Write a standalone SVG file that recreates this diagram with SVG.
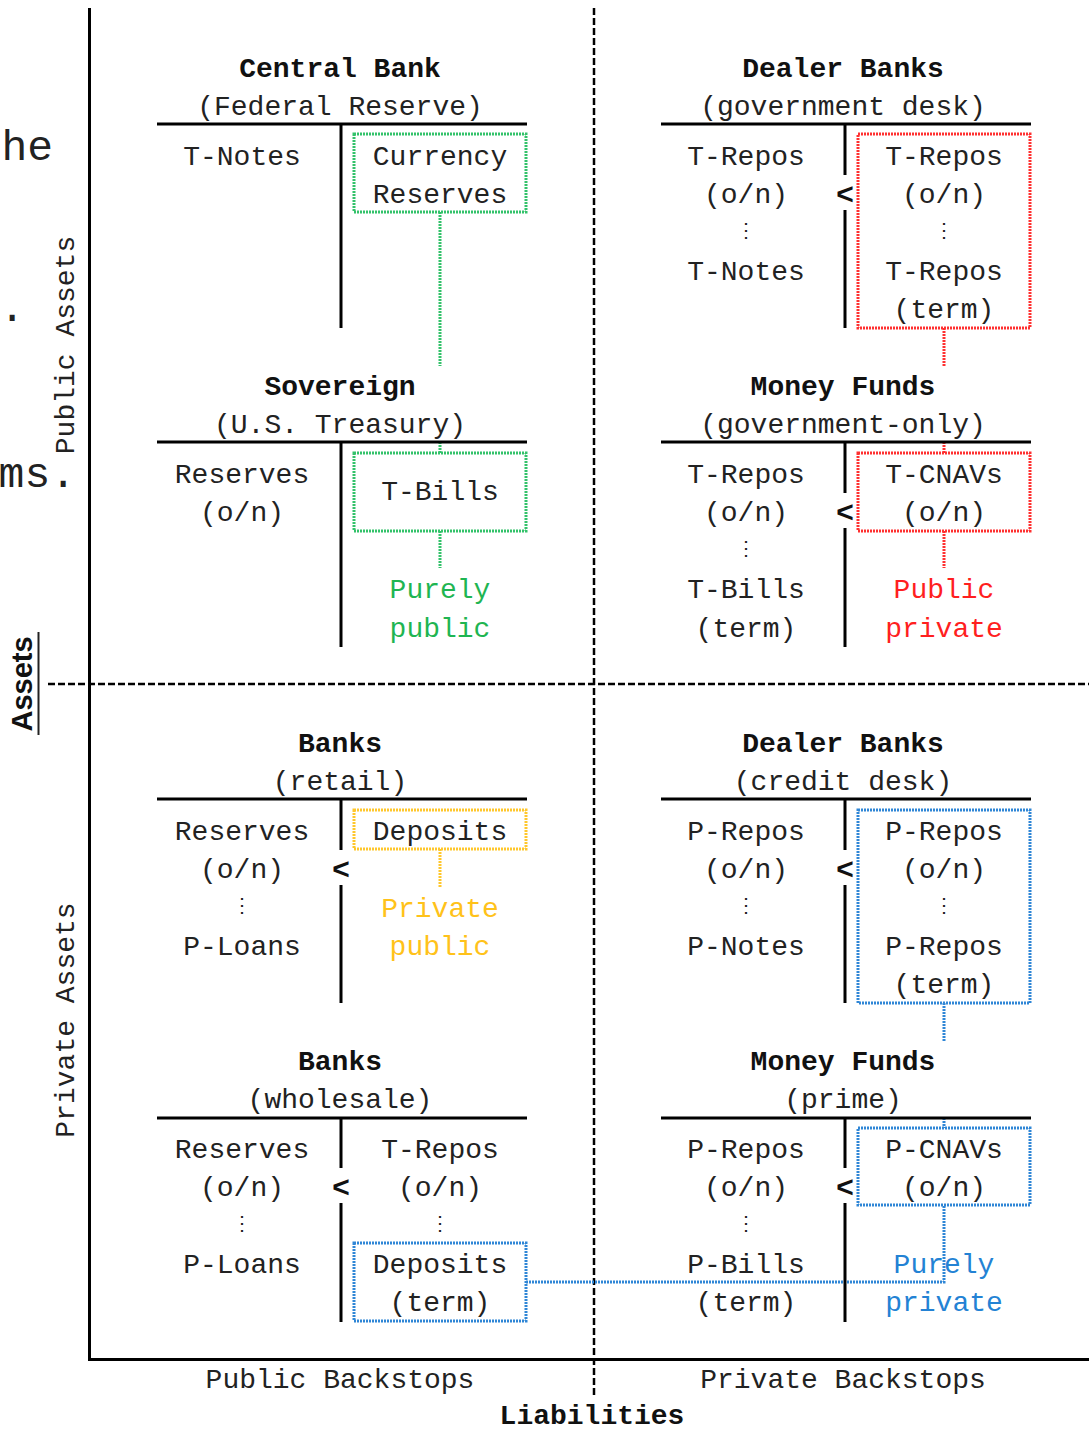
<svg xmlns="http://www.w3.org/2000/svg" width="1089" height="1432" viewBox="0 0 1089 1432">
  <style>
    .mono { font-family: "Liberation Mono", "Courier New", monospace; font-size: 28px; fill: #222; text-anchor: middle; }
    .title { font-family: "Liberation Mono", "Courier New", monospace; font-size: 28px; font-weight: bold; fill: #111; text-anchor: middle; }
    .lt { font-family: "Liberation Sans", Arial, sans-serif; font-size: 30px; font-weight: bold; fill: #111; text-anchor: middle; }
    .dots { font-family: "DejaVu Sans Mono", monospace; font-size: 20px; fill: #222; text-anchor: middle; }
    .axis { stroke: #000; stroke-width: 3; fill: none; }
    .rule { stroke: #000; stroke-width: 3; fill: none; }
    .dash { stroke: #000; stroke-width: 2.5; stroke-dasharray: 7 3; fill: none; }
    .box { fill: none; stroke-width: 3; stroke-dasharray: 2 1; }
    .green { stroke: #33c26a; }
    .red { stroke: #ff3030; }
    .yellow { stroke: #ffc72c; }
    .blue { stroke: #2f86d6; }
    .tg { fill: #1fb552; }
    .tr { fill: #ff1f1f; }
    .ty { fill: #ffc21a; }
    .tb { fill: #2382d4; }
  </style>

  <!-- clipped remnants at the left edge -->
  <g id="edge-text" font-family="Liberation Mono, Courier New, monospace" font-size="43" fill="#222" text-anchor="end">
    <text x="53" y="160">he</text>
    <text x="25" y="321">.</text>
    <text x="76" y="487">ms.</text>
  </g>

  <!-- axes and quadrant dividers -->
  <g id="axes">
    <line class="axis" x1="89.5" y1="8" x2="89.5" y2="1361"/>
    <line class="axis" x1="88" y1="1359.5" x2="1089" y2="1359.5"/>
    <line class="dash" x1="594" y1="8" x2="594" y2="1397"/>
    <line class="dash" x1="48" y1="684" x2="1089" y2="684"/>
  </g>

  <!-- axis labels -->
  <g id="axis-labels">
    <text transform="translate(32,684) rotate(-90)" font-family="Liberation Sans, Arial, sans-serif" font-size="29" font-weight="bold" fill="#111" text-anchor="middle">Assets</text>
    <line x1="38.5" y1="632" x2="38.5" y2="735" stroke="#222" stroke-width="2"/>
    <text class="mono" transform="translate(74,345) rotate(-90)">Public Assets</text>
    <text class="mono" transform="translate(74,1020) rotate(-90)">Private Assets</text>
    <text class="mono" x="340" y="1388">Public Backstops</text>
    <text class="mono" x="843" y="1388">Private Backstops</text>
    <text class="title" x="592" y="1424">Liabilities</text>
  </g>

  <!-- connectors between liability boxes -->
  <g id="connectors">
    <path class="box green" d="M440 212 V366 M440 442 V453"/>
    <path class="box green" d="M440 531 V568"/>
    <path class="box red" d="M944 328 V366 M944 442 V453"/>
    <path class="box red" d="M944 531 V568"/>
    <path class="box yellow" d="M440 849 V887"/>
    <path class="box blue" d="M944 1003 V1041 M944 1118 V1128"/>
    <path class="box blue" d="M526 1282 H944 V1205"/>
  </g>

  <!-- Central Bank -->
  <g id="central-bank">
    <text class="title" x="340" y="77">Central Bank</text>
    <text class="mono" x="340" y="115">(Federal Reserve)</text>
    <line class="rule" x1="157" y1="124" x2="527" y2="124"/>
    <line class="rule" x1="341" y1="124" x2="341" y2="328"/>
    <text class="mono" x="242" y="165">T-Notes</text>
    <rect class="box green" x="354" y="134" width="172" height="78"/>
    <text class="mono" x="440" y="165">Currency</text>
    <text class="mono" x="440" y="203">Reserves</text>
  </g>

  <!-- Sovereign -->
  <g id="sovereign">
    <text class="title" x="340" y="395">Sovereign</text>
    <text class="mono" x="340" y="433">(U.S. Treasury)</text>
    <line class="rule" x1="157" y1="442" x2="527" y2="442"/>
    <line class="rule" x1="341" y1="442" x2="341" y2="647"/>
    <text class="mono" x="242" y="483">Reserves</text>
    <text class="mono" x="242" y="521">(o/n)</text>
    <rect class="box green" x="354" y="453" width="172" height="78"/>
    <text class="mono" x="440" y="500">T-Bills</text>
    <text class="mono tg" x="440" y="598">Purely</text>
    <text class="mono tg" x="440" y="637">public</text>
  </g>

  <!-- Dealer Banks (government desk) -->
  <g id="dealer-gov">
    <text class="title" x="843" y="77">Dealer Banks</text>
    <text class="mono" x="843" y="115">(government desk)</text>
    <line class="rule" x1="661" y1="124" x2="1031" y2="124"/>
    <path class="rule" d="M845 124 V175 M845 210 V328"/>
    <text class="lt" x="845" y="204">&lt;</text>
    <text class="mono" x="746" y="165">T-Repos</text>
    <text class="mono" x="746" y="203">(o/n)</text>
    <text class="dots" x="746" y="237">⋮</text>
    <text class="mono" x="746" y="280">T-Notes</text>
    <rect class="box red" x="858" y="134" width="172" height="194"/>
    <text class="mono" x="944" y="165">T-Repos</text>
    <text class="mono" x="944" y="203">(o/n)</text>
    <text class="dots" x="944" y="237">⋮</text>
    <text class="mono" x="944" y="280">T-Repos</text>
    <text class="mono" x="944" y="318">(term)</text>
  </g>

  <!-- Money Funds (government-only) -->
  <g id="mmf-gov">
    <text class="title" x="843" y="395">Money Funds</text>
    <text class="mono" x="843" y="433">(government-only)</text>
    <line class="rule" x1="661" y1="442" x2="1031" y2="442"/>
    <path class="rule" d="M845 442 V493 M845 528 V647"/>
    <text class="lt" x="845" y="522">&lt;</text>
    <text class="mono" x="746" y="483">T-Repos</text>
    <text class="mono" x="746" y="521">(o/n)</text>
    <text class="dots" x="746" y="555">⋮</text>
    <text class="mono" x="746" y="598">T-Bills</text>
    <text class="mono" x="746" y="637">(term)</text>
    <rect class="box red" x="858" y="453" width="172" height="78"/>
    <text class="mono" x="944" y="483">T-CNAVs</text>
    <text class="mono" x="944" y="521">(o/n)</text>
    <text class="mono tr" x="944" y="598">Public</text>
    <text class="mono tr" x="944" y="637">private</text>
  </g>

  <!-- Banks (retail) -->
  <g id="banks-retail">
    <text class="title" x="340" y="752">Banks</text>
    <text class="mono" x="340" y="790">(retail)</text>
    <line class="rule" x1="157" y1="799" x2="527" y2="799"/>
    <path class="rule" d="M341 799 V850 M341 885 V1003"/>
    <text class="lt" x="341" y="879">&lt;</text>
    <text class="mono" x="242" y="840">Reserves</text>
    <text class="mono" x="242" y="878">(o/n)</text>
    <text class="dots" x="242" y="912">⋮</text>
    <text class="mono" x="242" y="955">P-Loans</text>
    <rect class="box yellow" x="354" y="810" width="172" height="39"/>
    <text class="mono" x="440" y="840">Deposits</text>
    <text class="mono ty" x="440" y="917">Private</text>
    <text class="mono ty" x="440" y="955">public</text>
  </g>

  <!-- Dealer Banks (credit desk) -->
  <g id="dealer-credit">
    <text class="title" x="843" y="752">Dealer Banks</text>
    <text class="mono" x="843" y="790">(credit desk)</text>
    <line class="rule" x1="661" y1="799" x2="1031" y2="799"/>
    <path class="rule" d="M845 799 V850 M845 885 V1003"/>
    <text class="lt" x="845" y="879">&lt;</text>
    <text class="mono" x="746" y="840">P-Repos</text>
    <text class="mono" x="746" y="878">(o/n)</text>
    <text class="dots" x="746" y="912">⋮</text>
    <text class="mono" x="746" y="955">P-Notes</text>
    <rect class="box blue" x="858" y="810" width="172" height="193"/>
    <text class="mono" x="944" y="840">P-Repos</text>
    <text class="mono" x="944" y="878">(o/n)</text>
    <text class="dots" x="944" y="912">⋮</text>
    <text class="mono" x="944" y="955">P-Repos</text>
    <text class="mono" x="944" y="993">(term)</text>
  </g>

  <!-- Banks (wholesale) -->
  <g id="banks-wholesale">
    <text class="title" x="340" y="1070">Banks</text>
    <text class="mono" x="340" y="1108">(wholesale)</text>
    <line class="rule" x1="157" y1="1118" x2="527" y2="1118"/>
    <path class="rule" d="M341 1118 V1168 M341 1203 V1322"/>
    <text class="lt" x="341" y="1197">&lt;</text>
    <text class="mono" x="242" y="1158">Reserves</text>
    <text class="mono" x="242" y="1196">(o/n)</text>
    <text class="dots" x="242" y="1230">⋮</text>
    <text class="mono" x="242" y="1273">P-Loans</text>
    <text class="mono" x="440" y="1158">T-Repos</text>
    <text class="mono" x="440" y="1196">(o/n)</text>
    <text class="dots" x="440" y="1230">⋮</text>
    <rect class="box blue" x="354" y="1243" width="172" height="78"/>
    <text class="mono" x="440" y="1273">Deposits</text>
    <text class="mono" x="440" y="1311">(term)</text>
  </g>

  <!-- Money Funds (prime) -->
  <g id="mmf-prime">
    <text class="title" x="843" y="1070">Money Funds</text>
    <text class="mono" x="843" y="1108">(prime)</text>
    <line class="rule" x1="661" y1="1118" x2="1031" y2="1118"/>
    <path class="rule" d="M845 1118 V1168 M845 1203 V1322"/>
    <text class="lt" x="845" y="1197">&lt;</text>
    <text class="mono" x="746" y="1158">P-Repos</text>
    <text class="mono" x="746" y="1196">(o/n)</text>
    <text class="dots" x="746" y="1230">⋮</text>
    <text class="mono" x="746" y="1273">P-Bills</text>
    <text class="mono" x="746" y="1311">(term)</text>
    <rect class="box blue" x="858" y="1128" width="172" height="77"/>
    <text class="mono" x="944" y="1158">P-CNAVs</text>
    <text class="mono" x="944" y="1196">(o/n)</text>
    <text class="mono tb" x="944" y="1273">Purely</text>
    <text class="mono tb" x="944" y="1311">private</text>
  </g>
</svg>
